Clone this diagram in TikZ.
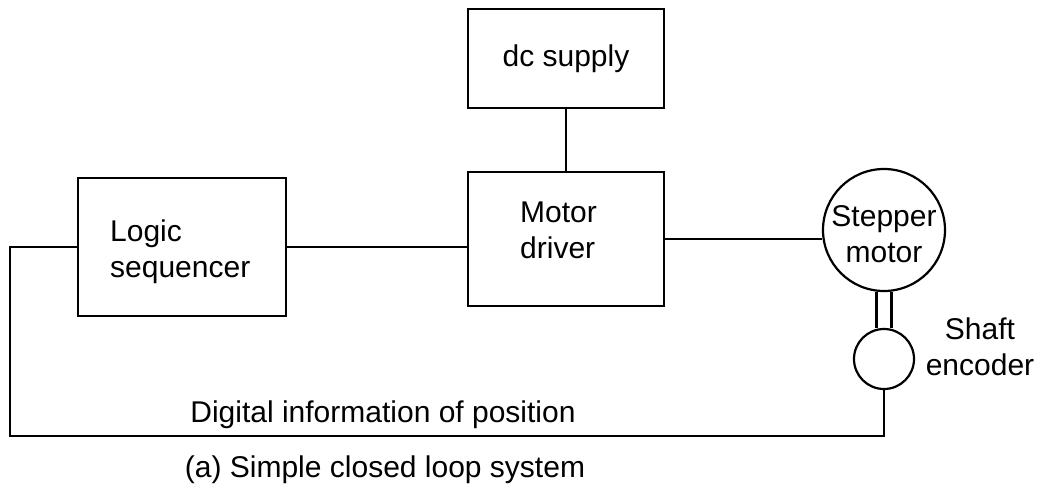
\documentclass[tikz,border=0pt]{standalone}
\usepackage{fontspec}
\setmainfont{Liberation Sans}
\begin{document}
\begin{tikzpicture}[x=1pt,y=-1pt,
  every node/.style={font=\fontsize{30}{36}\selectfont},
  wire/.style={line width=2.2pt, black},
  block/.style={draw, line width=2.2pt, rectangle, inner sep=0pt},
  disc/.style={draw, line width=2.2pt, circle, inner sep=0pt},
  txt/.style={inner sep=0pt, align=left}]
  \useasboundingbox (0,0) rectangle (1047,490);

  % blocks
  \node[block, minimum width=196, minimum height=99] (dc) at (566,58.5) {dc supply};
  \node[block, minimum width=208, minimum height=138] (logic) at (182,247) {};
  \node[block, minimum width=196, minimum height=134] (driver) at (566,239) {};
  \node[disc, minimum size=122] (stepper) at (884,230) {};
  \node[disc, minimum size=60] (encoder) at (884,359) {};

  % block captions
  \node[txt, anchor=north west] (logictext) at (110,220) {Logic\\sequencer};
  \node[txt, anchor=north west] (drivertext) at (520,202) {Motor\\driver};
  \node[txt, align=center, anchor=north] (steppertext) at (884,205) {Stepper\\motor};
  \node[txt, align=center] (shaftlbl) at (980,347) {Shaft\\encoder};

  % feedback corner
  \coordinate (fbl) at (10,436);

  % connections
  \draw[wire] (dc.south) -- (driver.north);
  \draw[wire] (logic.east) -- (logic.east -| driver.west);
  \draw[wire] (driver.east) -- (driver.east -| stepper.west);
  \draw[wire] ([xshift=-7.5pt]stepper.south) -- ([xshift=-7.5pt]encoder.north);
  \draw[wire] ([xshift=7.5pt]stepper.south) -- ([xshift=7.5pt]encoder.north);
  \draw[wire] (encoder.south) |- (fbl) |- (logic.west);

  % labels
  \node[anchor=base, inner sep=0pt] (fbtext) at (383,422) {Digital information of position};
  \node[anchor=base, inner sep=0pt] (caption) at (385,477) {(a) Simple closed loop system};
\end{tikzpicture}
\end{document}
